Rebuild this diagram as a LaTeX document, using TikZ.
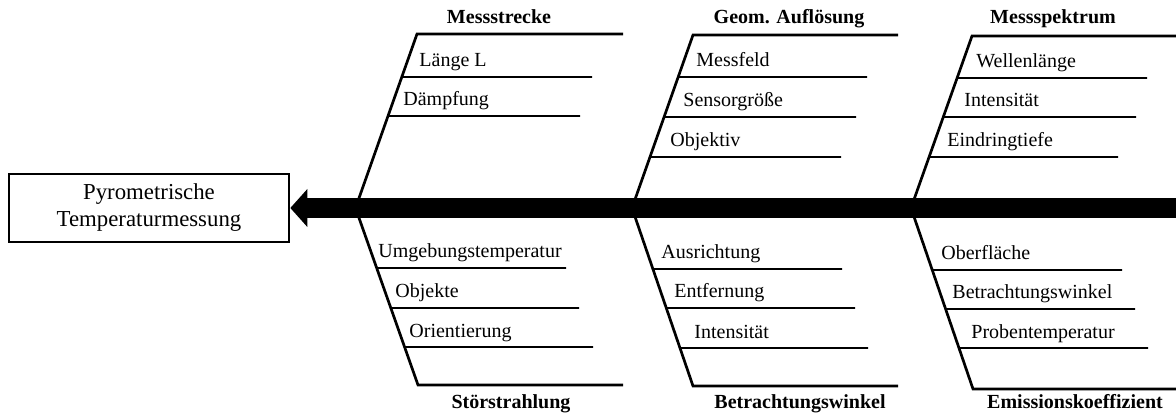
\documentclass[tikz,border=0pt]{standalone}
\usepackage{fontspec}
\setmainfont{Liberation Serif}
\usetikzlibrary{arrows.meta,calc}
\begin{document}
\begin{tikzpicture}[x=0.5pt,y=-0.5pt,
  bone/.style={line width=1.35pt, line join=miter},
  twig/.style={line width=0.85pt},
  cause/.style={font=\fontsize{10}{12}\selectfont\bfseries, inner sep=0pt, anchor=base},
  factor/.style={font=\fontsize{10}{12}\selectfont, inner sep=0pt, anchor=base west},
  effect/.style={draw, line width=1.35pt, minimum width=140pt, minimum height=34pt,
    inner sep=0pt, align=center, font=\fontsize{11.4}{13.5}\selectfont},
  spine/.style={line width=10pt, -{Triangle[length=8.5pt,width=19pt,line width=0pt]}}
]
\fill[white] (0,0) rectangle (1176,416);
\useasboundingbox (0,0) rectangle (1176,416);

% effect box and main spine
\node[effect] (effect) at (149,208) {Pyrometrische\\Temperaturmessung};
\coordinate (spineR) at (1176,208);
\draw[spine] (spineR) -- (effect.east);

% points where the bones leave the spine (spine axis at y=208)
\coordinate (s1) at (355.5,208);
\coordinate (s2) at (632,208);
\coordinate (s3) at (911,208);

% upper bones
\coordinate (t1) at (417,34);  \coordinate (t1e) at (623,34);
\coordinate (t2) at (693,35);  \coordinate (t2e) at (898,35);
\coordinate (t3) at (972,36);  \coordinate (t3e) at (1176,36);
% lower bones
\coordinate (b1) at (418,385); \coordinate (b1e) at (623,385);
\coordinate (b2) at (693,386); \coordinate (b2e) at (898,386);
\coordinate (b3) at (973,389); \coordinate (b3e) at (1176,389);

\draw[bone] (s1) -- (t1) -- (t1e);
\draw[bone] (s2) -- (t2) -- (t2e);
\draw[bone] (s3) -- (t3) -- (t3e);
\draw[bone] (s1) -- (b1) -- (b1e);
\draw[bone] (s2) -- (b2) -- (b2e);
\draw[bone] (s3) -- (b3) -- (b3e);

% cause titles
\node[cause] (c1) at (499,24) {Messstrecke};
\node[cause] (c2) at (789,24) {Geom. Auflösung};
\node[cause] (c3) at (1053,24) {Messspektrum};
\node[cause] (c4) at (511,408) {Störstrahlung};
\node[cause] (c5) at (800,408) {Betrachtungswinkel};
\node[cause] (c6) at (1075,408) {Emissionskoeffizient};

% factors: key/spine point/bone corner/corner y/line y/line end x/text x/text
\foreach \k/\s/\t/\yt/\y/\xe/\xt/\txt in {
  t1a/s1/t1/34/77/592/419/Länge L,
  t1b/s1/t1/34/116/580/403/Dämpfung,
  t2a/s2/t2/35/77/867/696/Messfeld,
  t2b/s2/t2/35/117/856/683/Sensorgröße,
  t2c/s2/t2/35/157/841/670/Objektiv,
  t3a/s3/t3/36/78/1147/976/Wellenlänge,
  t3b/s3/t3/36/117/1136/964/Intensität,
  t3c/s3/t3/36/157/1118/947/Eindringtiefe,
  b1a/s1/b1/385/268/566/378/Umgebungstemperatur,
  b1b/s1/b1/385/308/579/395/Objekte,
  b1c/s1/b1/385/347/593/409/Orientierung,
  b2a/s2/b2/386/269/842/661/Ausrichtung,
  b2b/s2/b2/386/308/855/674/Entfernung,
  b2c/s2/b2/386/348/868/694/Intensität,
  b3a/s3/b3/389/270/1122/941/Oberfläche,
  b3b/s3/b3/389/309/1135/952/Betrachtungswinkel,
  b3c/s3/b3/389/348/1148/971/Probentemperatur} {
  \coordinate (\k-start) at ($(\s)!{(208-\y)/(208-\yt)}!(\t)$);
  \coordinate (\k-end) at (\xe,\y);
  \draw[twig] (\k-start) -- (\k-end);
  \node[factor] (\k-label) at (\xt,\y-10) {\txt};
}
\end{tikzpicture}
\end{document}
